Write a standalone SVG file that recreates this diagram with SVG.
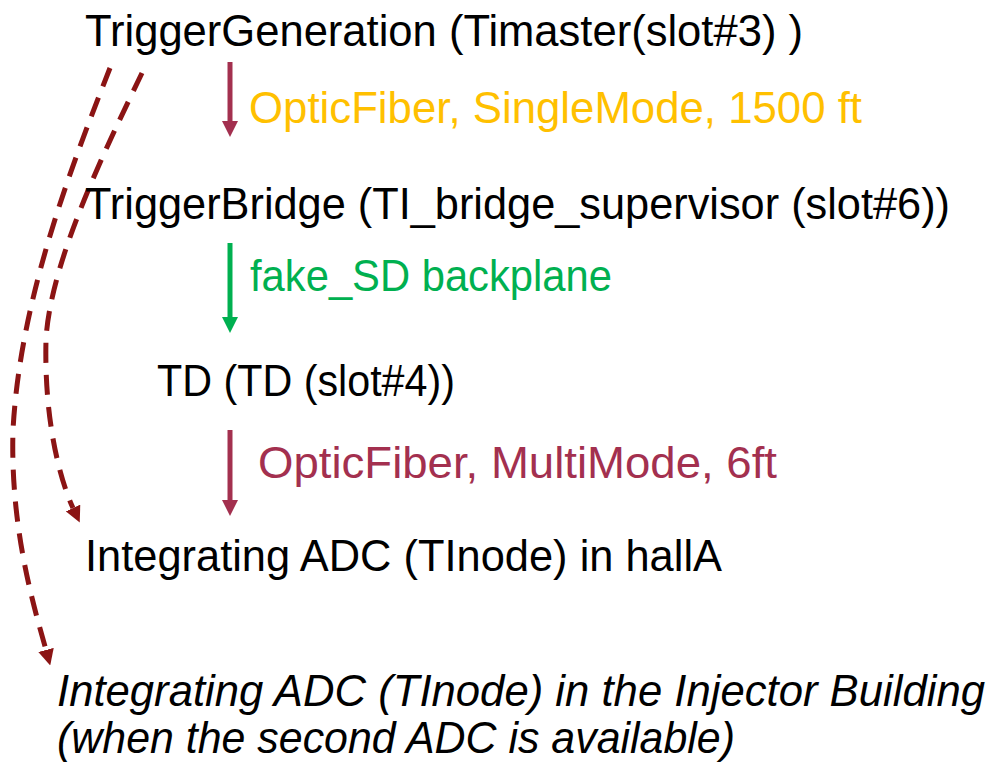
<svg xmlns="http://www.w3.org/2000/svg" width="995" height="771" viewBox="0 0 995 771">
<style>
  text { font-family: "Liberation Sans", Arial, sans-serif; font-size: 44px; fill: #000; }
  .it { font-style: italic; }
  .orange { fill: #FFC000; }
  .green { fill: #00B050; }
  .maroon { fill: #A3304F; }
  .dash { fill: none; stroke: #8B1414; stroke-width: 5; stroke-dasharray: 20 12; }
</style>
<defs>
  <marker id="hd" markerUnits="userSpaceOnUse" viewBox="0 0 16 16" refX="0" refY="8" markerWidth="16" markerHeight="16" orient="auto">
    <path d="M0,0 L16,8 L0,16 z" fill="#8B1414"/>
  </marker>
  <marker id="hm" markerUnits="userSpaceOnUse" viewBox="0 0 16 16" refX="0" refY="8" markerWidth="16" markerHeight="17" orient="auto">
    <path d="M0,0 L16,8 L0,16 z" fill="#A3304F"/>
  </marker>
  <marker id="hg" markerUnits="userSpaceOnUse" viewBox="0 0 16 16" refX="0" refY="8" markerWidth="16" markerHeight="17" orient="auto">
    <path d="M0,0 L16,8 L0,16 z" fill="#00B050"/>
  </marker>
</defs>

<g id="connectors">
  <line x1="230" y1="62" x2="230" y2="121" stroke="#A3304F" stroke-width="5" marker-end="url(#hm)"/>
  <line x1="230" y1="243" x2="230" y2="317" stroke="#00B050" stroke-width="5" marker-end="url(#hg)"/>
  <line x1="230" y1="430" x2="230" y2="500" stroke="#A3304F" stroke-width="5" marker-end="url(#hm)"/>
  <path class="dash" d="M110,68 C70,170 20,300 13,430 C10,530 35,610 46,650" marker-end="url(#hd)"/>
  <path class="dash" d="M142,73 C110,140 50,260 46,340 C44,420 60,480 73,508" marker-end="url(#hd)"/>
  <text class="orange" x="249" y="123" textLength="613" lengthAdjust="spacingAndGlyphs">OpticFiber, SingleMode, 1500 ft</text>
  <text class="green" x="250" y="291" textLength="362" lengthAdjust="spacingAndGlyphs">fake_SD backplane</text>
  <text class="maroon" x="258" y="478" textLength="519" lengthAdjust="spacingAndGlyphs">OpticFiber, MultiMode, 6ft</text>
</g>

<g id="trigger-generation">
  <text x="85" y="46" textLength="718" lengthAdjust="spacingAndGlyphs">TriggerGeneration (Timaster(slot#3) )</text>
</g>
<g id="trigger-bridge">
  <text x="85" y="219" textLength="865" lengthAdjust="spacingAndGlyphs">TriggerBridge (TI_bridge_supervisor (slot#6))</text>
</g>
<g id="td">
  <text x="157" y="396" textLength="298" lengthAdjust="spacingAndGlyphs">TD (TD (slot#4))</text>
</g>
<g id="adc-halla">
  <text x="85" y="571" textLength="637" lengthAdjust="spacingAndGlyphs">Integrating ADC (TInode) in hallA</text>
</g>
<g id="adc-injector">
  <text class="it" x="57" y="706" textLength="928" lengthAdjust="spacingAndGlyphs">Integrating ADC (TInode) in the Injector Building</text>
  <text class="it" x="57" y="753" textLength="678" lengthAdjust="spacingAndGlyphs">(when the second ADC is available)</text>
</g>
</svg>
